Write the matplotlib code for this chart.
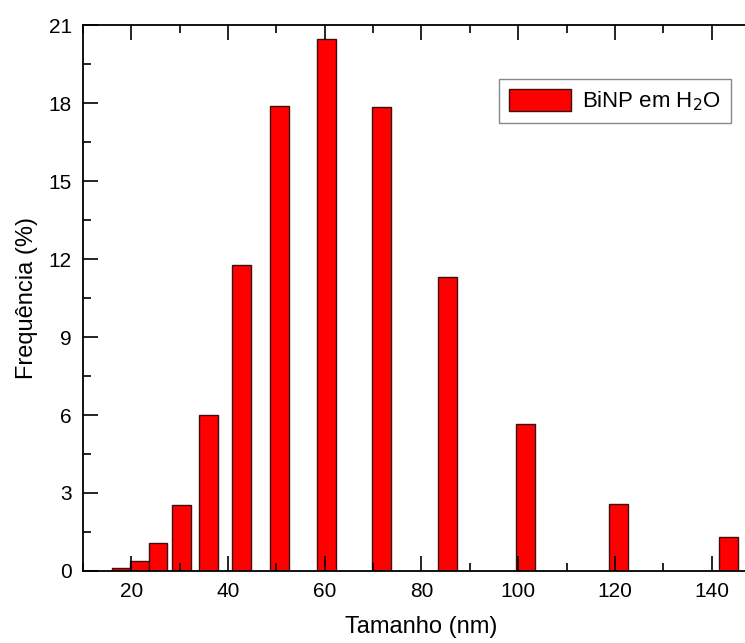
import matplotlib.pyplot as plt
from matplotlib.ticker import MultipleLocator

plt.rcParams['font.family'] = ['Liberation Sans', 'DejaVu Sans']

# bin centres (nm) and frequency (%)
tamanho = [17.9, 21.7, 25.5, 30.3, 36.0, 42.7, 50.7, 60.4, 71.8, 85.3, 101.5, 120.7, 143.5]
frequencia = [0.13, 0.37, 1.06, 2.53, 6.0, 11.78, 17.88, 20.47, 17.83, 11.3, 5.65, 2.58, 1.3]
xticks = [20, 40, 60, 80, 100, 120, 140]
yticks = [0, 3, 6, 9, 12, 15, 18, 21]

fig = plt.figure(figsize=(7.45, 6.43), dpi=100)
ax = fig.add_axes([83/745, 72/643, 677/745, 546/643])

ax.bar(tamanho, frequencia, width=3.9, color='#ff0000', edgecolor='#3a1010',
       linewidth=1.0, label='BiNP em H$_2$O')

ax.set_xlim(10, 150)
ax.set_ylim(0, 21)
ax.set_xticks(xticks)
ax.set_yticks(yticks)
ax.xaxis.set_minor_locator(MultipleLocator(10))
ax.yaxis.set_minor_locator(MultipleLocator(1.5))
ax.tick_params(which='both', direction='in', top=True, right=True, labelsize=15, width=1.2)
ax.tick_params(which='major', length=11, pad=8)
ax.tick_params(which='minor', length=6)
for s in ax.spines.values():
    s.set_linewidth(1.3)

ax.set_xlabel('Tamanho (nm)', fontsize=17, labelpad=11)
ax.set_ylabel('Frequência (%)', fontsize=17, labelpad=8)

leg = ax.legend(loc='upper right', bbox_to_anchor=(0.974, 0.922), fontsize=16,
                fancybox=False, edgecolor='#888888', framealpha=1,
                handlelength=2.8, handleheight=1.2, borderpad=0.45, handletextpad=0.5)
leg.get_frame().set_linewidth(1.0)

fig.savefig('out.png', dpi=100)
